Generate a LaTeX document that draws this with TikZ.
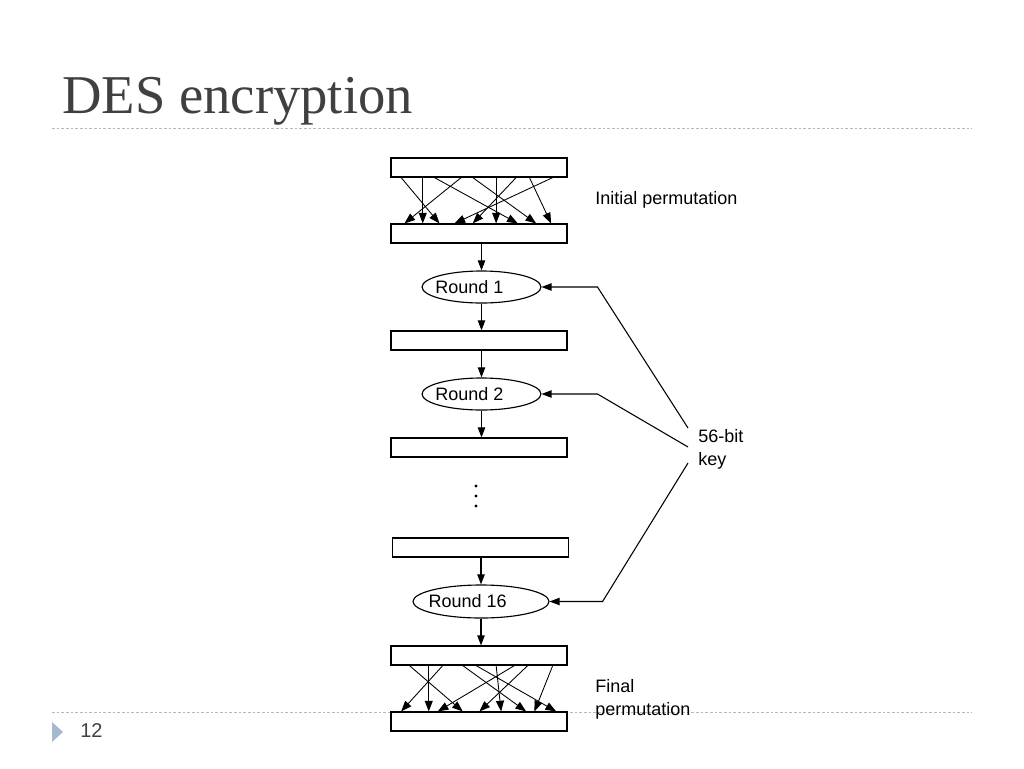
\documentclass[tikz,border=0pt]{standalone}
\usepackage{fontspec}
\setmainfont{Liberation Serif}
\setsansfont{Liberation Sans}
\usetikzlibrary{arrows.meta, positioning, calc, shapes.geometric}
\definecolor{titleGray}{HTML}{404040}
\definecolor{ruleGray}{gray}{0.72}
\definecolor{bulletBlue}{HTML}{A5B8CF}

\begin{document}
\begin{tikzpicture}[x=0.75pt, y=-0.75pt, >={Triangle[length=7.5pt,width=5.5pt]},
    blockbox/.style={draw, line width=0.85pt, minimum width=132pt, minimum height=14.25pt, inner sep=0pt},
    roundbox/.style={draw, ellipse, line width=0.85pt, minimum width=89pt, minimum height=24pt, inner ysep=0pt, inner xsep=-3pt,
      font=\sffamily\fontsize{13.5}{16}\selectfont},
    flow/.style={->, line width=0.8pt},
    perm/.style={-{Triangle[length=8pt,width=6pt]}, line width=0.65pt},
    note/.style={font=\sffamily\fontsize{13.5}{17.25}\selectfont, align=left, anchor=west, inner sep=0pt},
    rule/.style={ruleGray, dash pattern=on 2pt off 1.5pt, line width=0.6pt}]
    \useasboundingbox (0,0) rectangle (1024,768);

    % slide title and rules
    \node[anchor=base west, inner sep=0pt, text=titleGray, font=\fontsize{41}{41}\selectfont] (title) at (62,113) {DES encryption};
    \draw[rule] (52,128) -- (972,128);
    \draw[rule] (52,712) -- (972,712);
    \fill[bulletBlue] (52,722) -- (63,732) -- (52,742) -- cycle;
    \node[anchor=west, inner sep=0pt, text=titleGray, font=\sffamily\fontsize{15}{15}\selectfont] (page) at (80,731) {12};

    % blocks
    \node[blockbox] (b1) at (479,167.5) {};
    \node[blockbox] (b2) at (479,233.5) {};
    \node[roundbox] (r1) at (481.5,287) {Round 1\hspace*{18pt}};
    \node[blockbox] (b3) at (479,340.5) {};
    \node[roundbox] (r2) at (481.5,394) {Round 2\hspace*{18pt}};
    \node[blockbox] (b4) at (479,447.5) {};
    \foreach \y in {486,496,506}
        \fill (476,\y) circle (1.7);
    \node[blockbox] (b5) at (480.5,547.5) {};
    \node[roundbox, minimum width=102pt, minimum height=24.75pt, inner xsep=-3.3pt] (r16) at (481,601.5) {Round 16\hspace*{20pt}};
    \node[blockbox] (b6) at (479,655.5) {};
    \node[blockbox] (b7) at (479,721.5) {};

    % flow down
    \draw[flow] (r1.north |- b2.south) -- (r1.north);
    \draw[flow] (r1.south) -- (r1.south |- b3.north);
    \draw[flow] (r2.north |- b3.south) -- (r2.north);
    \draw[flow] (r2.south) -- (r2.south |- b4.north);
    \draw[flow] (r16.north |- b5.south) -- (r16.north);
    \draw[flow] (r16.south) -- (r16.south |- b6.north);

    % permutations
    \foreach \s/\e in {10.7/49, 32.3/32.3, 44/127.3, 70.7/14, 82.3/145.7, 105.7/105.7, 125.7/82.3, 139/160.7, 162.3/64}
        \draw[perm] ($(b1.south west)+(\s,0)$) -- ($(b2.north west)+(\e,0)$);
    \foreach \s/\e in {19/72.3, 38.3/38.3, 52.3/10.7, 72.3/135.7, 85.7/165.7, 105.7/110.7, 124/47.3, 137.3/89, 162.3/144}
        \draw[perm] ($(b6.south west)+(\s,0)$) -- ($(b7.north west)+(\e,0)$);

    % labels
    \node[note] (ip) at (595,200) {Initial permutation};
    \node[note] (fp) at (595,699.5) {Final\\permutation};
    \node[note] (key) at (698,449) {56-bit\\key};

    % key lines
    \draw[flow] ($(key.west)+(-10,-21)$) -- ($(r1.east)+(56,0)$) -- (r1.east);
    \draw[flow] ($(key.west)+(-10,-2)$) -- ($(r2.east)+(56,0)$) -- (r2.east);
    \draw[flow] ($(key.west)+(-10,14)$) -- ($(r16.east)+(53,0)$) -- (r16.east);
\end{tikzpicture}
\end{document}
